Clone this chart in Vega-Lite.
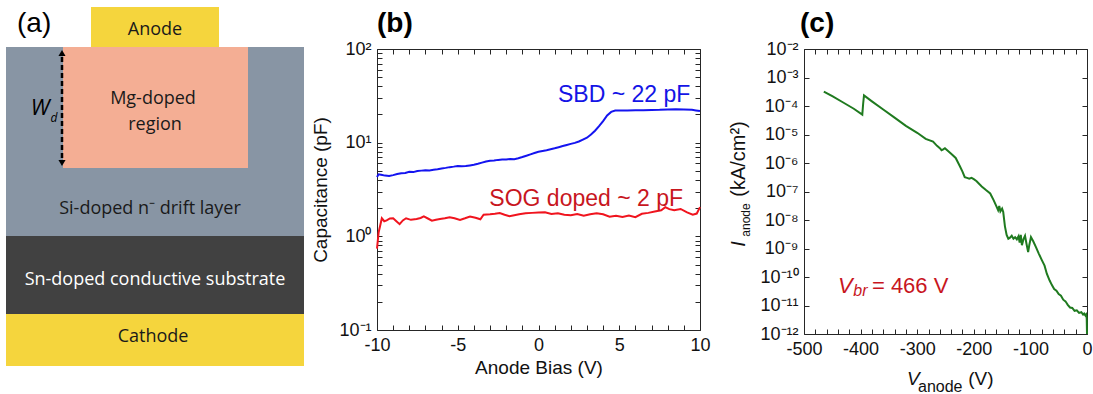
{
  "$schema": "https://vega.github.io/schema/vega-lite/v6.json",
  "usermeta": {"embedOptions": {"actions": false}},
  "background": "white",
  "padding": {"left": 6, "top": 7, "right": 0, "bottom": 0},
  "config": {
    "font": "Liberation Sans",
    "view": {"stroke": "#262626", "strokeWidth": 1},
    "axis": {"grid": false, "domain": false, "tickSize": -5, "tickColor": "#262626", "tickWidth": 1,
      "labelFont": "Liberation Sans", "labelFontSize": 18, "labelColor": "#111111", "labelPadding": 11,
      "labelOverlap": false, "labelFlush": false, "labelBound": false,
      "titleFont": "Liberation Sans", "titleFontSize": 19, "titleFontWeight": "normal", "titleColor": "#111111"},
    "title": {"font": "Liberation Sans", "fontSize": 28, "fontWeight": "bold", "anchor": "start", "frame": "group", "color": "#000000"}
  },
  "datasets": {
    "sbd": [
      {"v": -10, "c": 4.3}, {"v": -9.9, "c": 4.6}, {"v": -9.75, "c": 4.55}, {"v": -9.5, "c": 4.45}, {"v": -9.25, "c": 4.4}, {"v": -9, "c": 4.5},
      {"v": -8.75, "c": 4.62}, {"v": -8.5, "c": 4.72}, {"v": -8.25, "c": 4.75}, {"v": -8, "c": 4.88}, {"v": -7.75, "c": 4.85}, {"v": -7.5, "c": 4.98},
      {"v": -7.25, "c": 5.03}, {"v": -7, "c": 5.08}, {"v": -6.75, "c": 5.06}, {"v": -6.5, "c": 5.15}, {"v": -6.25, "c": 5.2}, {"v": -6, "c": 5.3},
      {"v": -5.75, "c": 5.38}, {"v": -5.5, "c": 5.48}, {"v": -5.25, "c": 5.55}, {"v": -5, "c": 5.65}, {"v": -4.75, "c": 5.6}, {"v": -4.5, "c": 5.62},
      {"v": -4.25, "c": 5.72}, {"v": -4, "c": 5.82}, {"v": -3.75, "c": 5.95}, {"v": -3.5, "c": 6.12}, {"v": -3.25, "c": 6.3}, {"v": -3, "c": 6.42},
      {"v": -2.75, "c": 6.46}, {"v": -2.5, "c": 6.55}, {"v": -2.25, "c": 6.6}, {"v": -2, "c": 6.63}, {"v": -1.75, "c": 6.7}, {"v": -1.5, "c": 6.66},
      {"v": -1.25, "c": 6.82}, {"v": -1, "c": 7.02}, {"v": -0.75, "c": 7.25}, {"v": -0.5, "c": 7.5}, {"v": -0.25, "c": 7.75}, {"v": 0, "c": 8.0},
      {"v": 0.25, "c": 8.15}, {"v": 0.5, "c": 8.3}, {"v": 0.75, "c": 8.5}, {"v": 1, "c": 8.7}, {"v": 1.25, "c": 8.95}, {"v": 1.5, "c": 9.2},
      {"v": 1.75, "c": 9.45}, {"v": 2, "c": 9.7}, {"v": 2.25, "c": 9.95}, {"v": 2.5, "c": 10.3}, {"v": 2.75, "c": 10.8}, {"v": 3, "c": 11.3},
      {"v": 3.25, "c": 12.2}, {"v": 3.5, "c": 13.4}, {"v": 3.75, "c": 15.0}, {"v": 4, "c": 17.0}, {"v": 4.25, "c": 19.5}, {"v": 4.5, "c": 21.3},
      {"v": 4.75, "c": 22.0}, {"v": 5, "c": 22.1}, {"v": 5.5, "c": 22.1}, {"v": 6, "c": 22.2}, {"v": 6.5, "c": 22.2}, {"v": 7, "c": 22.3},
      {"v": 7.5, "c": 22.4}, {"v": 8, "c": 22.6}, {"v": 8.5, "c": 22.7}, {"v": 9, "c": 22.6}, {"v": 9.5, "c": 22.4}, {"v": 9.75, "c": 22.1}, {"v": 10, "c": 21.8}
    ],
    "sog": [
      {"v": -10, "c": 0.74}, {"v": -9.9, "c": 1.1}, {"v": -9.7, "c": 1.56}, {"v": -9.55, "c": 1.45}, {"v": -9.4, "c": 1.48}, {"v": -9.2, "c": 1.55},
      {"v": -9.0, "c": 1.56}, {"v": -8.8, "c": 1.45}, {"v": -8.6, "c": 1.35}, {"v": -8.4, "c": 1.48}, {"v": -8.2, "c": 1.56}, {"v": -7.9, "c": 1.5},
      {"v": -7.55, "c": 1.53}, {"v": -7.3, "c": 1.57}, {"v": -7.1, "c": 1.63}, {"v": -6.85, "c": 1.55}, {"v": -6.6, "c": 1.47}, {"v": -6.35, "c": 1.5},
      {"v": -6.1, "c": 1.53}, {"v": -5.8, "c": 1.56}, {"v": -5.5, "c": 1.6}, {"v": -5.2, "c": 1.56}, {"v": -4.86, "c": 1.5}, {"v": -4.55, "c": 1.56},
      {"v": -4.24, "c": 1.63}, {"v": -3.9, "c": 1.58}, {"v": -3.6, "c": 1.52}, {"v": -3.4, "c": 1.7}, {"v": -3.0, "c": 1.72}, {"v": -2.7, "c": 1.74},
      {"v": -2.4, "c": 1.77}, {"v": -2.1, "c": 1.7}, {"v": -1.8, "c": 1.64}, {"v": -1.5, "c": 1.68}, {"v": -1.2, "c": 1.72}, {"v": -0.8, "c": 1.76},
      {"v": -0.4, "c": 1.78}, {"v": 0.0, "c": 1.8}, {"v": 0.4, "c": 1.81}, {"v": 0.8, "c": 1.73}, {"v": 1.2, "c": 1.76}, {"v": 1.6, "c": 1.7},
      {"v": 2.0, "c": 1.68}, {"v": 2.4, "c": 1.73}, {"v": 2.8, "c": 1.66}, {"v": 3.2, "c": 1.72}, {"v": 3.6, "c": 1.76}, {"v": 4.0, "c": 1.72},
      {"v": 4.4, "c": 1.62}, {"v": 4.8, "c": 1.66}, {"v": 5.2, "c": 1.61}, {"v": 5.6, "c": 1.67}, {"v": 6.0, "c": 1.6}, {"v": 6.4, "c": 1.74},
      {"v": 6.8, "c": 1.78}, {"v": 7.2, "c": 1.84}, {"v": 7.6, "c": 1.9}, {"v": 7.85, "c": 2.05}, {"v": 8.1, "c": 1.95}, {"v": 8.4, "c": 1.9},
      {"v": 8.8, "c": 1.96}, {"v": 9.2, "c": 1.8}, {"v": 9.55, "c": 1.7}, {"v": 9.8, "c": 1.75}, {"v": 10, "c": 2.05}
    ],
    "iv": [
      {"v": -465, "i": 3.2e-4}, {"v": -450, "i": 2.2e-4}, {"v": -430, "i": 1.3e-4}, {"v": -412, "i": 8.0e-5}, {"v": -397, "i": 5.0e-5},
      {"v": -395.5, "i": 1.2e-4}, {"v": -394, "i": 2.35e-4}, {"v": -380, "i": 1.45e-4}, {"v": -360, "i": 7.5e-5}, {"v": -340, "i": 3.9e-5},
      {"v": -320, "i": 2.0e-5}, {"v": -300, "i": 1.15e-5}, {"v": -285, "i": 7.0e-6}, {"v": -272, "i": 5.6e-6}, {"v": -265, "i": 4.0e-6},
      {"v": -260, "i": 3.3e-6}, {"v": -257, "i": 2.8e-6}, {"v": -254, "i": 3.0e-6}, {"v": -251, "i": 3.3e-6}, {"v": -247, "i": 2.8e-6},
      {"v": -240, "i": 2.1e-6}, {"v": -232, "i": 1.5e-6}, {"v": -225, "i": 8.0e-7}, {"v": -220, "i": 5.0e-7}, {"v": -216, "i": 3.2e-7},
      {"v": -212, "i": 3.0e-7}, {"v": -208, "i": 2.8e-7}, {"v": -204, "i": 3.0e-7}, {"v": -200, "i": 2.7e-7}, {"v": -195, "i": 2.3e-7},
      {"v": -186, "i": 1.5e-7}, {"v": -178, "i": 1.1e-7}, {"v": -171, "i": 8.5e-8}, {"v": -165, "i": 5.0e-8}, {"v": -160, "i": 3.0e-8},
      {"v": -157, "i": 2.2e-8}, {"v": -155, "i": 3.1e-8}, {"v": -153, "i": 2.0e-8}, {"v": -150, "i": 2.5e-8}, {"v": -148, "i": 1.9e-8},
      {"v": -145, "i": 6.0e-9}, {"v": -142, "i": 3.0e-9}, {"v": -139, "i": 2.2e-9}, {"v": -136, "i": 2.4e-9}, {"v": -133, "i": 2.8e-9},
      {"v": -130, "i": 2.2e-9}, {"v": -127, "i": 2.5e-9}, {"v": -124, "i": 2.1e-9}, {"v": -121, "i": 2.7e-9}, {"v": -119, "i": 1.6e-9},
      {"v": -117, "i": 3.0e-9}, {"v": -115, "i": 1.3e-9}, {"v": -112, "i": 2.2e-9}, {"v": -109.5, "i": 2.8e-9}, {"v": -107, "i": 1.5e-9},
      {"v": -104, "i": 7.5e-10}, {"v": -102, "i": 1.3e-9}, {"v": -99, "i": 2.5e-9}, {"v": -95, "i": 1.8e-9}, {"v": -90, "i": 1.1e-9},
      {"v": -85, "i": 6.5e-10}, {"v": -80, "i": 4.0e-10}, {"v": -75, "i": 2.5e-10}, {"v": -71, "i": 1.3e-10}, {"v": -66, "i": 7.5e-11},
      {"v": -62, "i": 5.2e-11}, {"v": -58, "i": 3.8e-11}, {"v": -54, "i": 3.3e-11}, {"v": -50, "i": 2.5e-11}, {"v": -46, "i": 2.2e-11},
      {"v": -42, "i": 1.6e-11}, {"v": -38, "i": 1.4e-11}, {"v": -34, "i": 1.05e-11}, {"v": -30, "i": 8.5e-12}, {"v": -26, "i": 8.2e-12},
      {"v": -22, "i": 6.5e-12}, {"v": -18, "i": 6.8e-12}, {"v": -14, "i": 5.5e-12}, {"v": -10, "i": 5.8e-12}, {"v": -7, "i": 4.8e-12},
      {"v": -5, "i": 5.2e-12}, {"v": -3, "i": 4.5e-12}, {"v": -1.5, "i": 4.9e-12}, {"v": -0.5, "i": 3.5e-12}, {"v": 0, "i": 1.0e-12}
    ]
  },
  "spacing": 7,
  "hconcat": [
    {
      "width": 298,
      "height": 317,
      "view": {"stroke": null},
      "layer": [
        {
          "data": {"values": [
            {"part": "drift", "x1": 6, "x2": 304, "y1": 47, "y2": 236},
            {"part": "mg", "x1": 63, "x2": 248, "y1": 47, "y2": 168},
            {"part": "substrate", "x1": 6, "x2": 304, "y1": 236, "y2": 314},
            {"part": "cathode", "x1": 6, "x2": 304, "y1": 314, "y2": 366},
            {"part": "anode", "x1": 91, "x2": 219, "y1": 7, "y2": 47}
          ]},
          "mark": {"type": "rect", "strokeWidth": 0},
          "encoding": {
            "x": {"field": "x1", "type": "quantitative", "scale": {"domain": [6, 304], "nice": false, "zero": false}, "axis": null},
            "x2": {"field": "x2"},
            "y": {"field": "y1", "type": "quantitative", "scale": {"domain": [49, 366], "reverse": true, "nice": false, "zero": false}, "axis": null},
            "y2": {"field": "y2"},
            "color": {"field": "part", "type": "nominal", "legend": null,
              "scale": {"domain": ["drift", "mg", "substrate", "cathode", "anode"], "range": ["#8895A4", "#F4AE94", "#414141", "#F5D53D", "#F5D53D"]}}
          }
        },
        {
          "data": {"values": [{"x": 62, "y1": 57, "y2": 160}]},
          "mark": {"type": "rule", "strokeDash": [5, 3], "strokeWidth": 2.5, "color": "#000000"},
          "encoding": {
            "x": {"field": "x", "type": "quantitative"},
            "y": {"field": "y1", "type": "quantitative"},
            "y2": {"field": "y2"}
          }
        },
        {
          "data": {"values": [{"x": 62, "y": 53, "dir": "up"}, {"x": 62, "y": 163, "dir": "down"}]},
          "mark": {"type": "point", "filled": true, "size": 50, "color": "#000000", "opacity": 1},
          "encoding": {
            "x": {"field": "x", "type": "quantitative"},
            "y": {"field": "y", "type": "quantitative"},
            "shape": {"field": "dir", "type": "nominal", "legend": null, "scale": {"domain": ["up", "down"], "range": ["triangle-up", "triangle-down"]}}
          }
        },
        {
          "data": {"values": [
            {"t": "Anode", "x": 155, "y": 29.5},
            {"t": "Mg-doped", "x": 153, "y": 99},
            {"t": "region", "x": 155, "y": 125},
            {"t": "Si-doped n⁻ drift layer", "x": 150, "y": 209},
            {"t": "Cathode", "x": 153, "y": 337}
          ]},
          "mark": {"type": "text", "font": "Open Sans", "fontSize": 18, "color": "#1a1a1a", "align": "center", "baseline": "middle"},
          "encoding": {
            "x": {"field": "x", "type": "quantitative"},
            "y": {"field": "y", "type": "quantitative"},
            "text": {"field": "t"}
          }
        },
        {
          "data": {"values": [{"t": "Sn-doped conductive substrate", "x": 155, "y": 280}]},
          "mark": {"type": "text", "font": "Open Sans", "fontSize": 18, "color": "#ffffff", "align": "center", "baseline": "middle"},
          "encoding": {
            "x": {"field": "x", "type": "quantitative"},
            "y": {"field": "y", "type": "quantitative"},
            "text": {"field": "t"}
          }
        },
        {
          "data": {"values": [{"t": "W", "x": 40, "y": 108}]},
          "mark": {"type": "text", "font": "Open Sans", "fontSize": 22, "fontStyle": "italic", "color": "#000000", "align": "center", "baseline": "middle"},
          "encoding": {
            "x": {"field": "x", "type": "quantitative"},
            "y": {"field": "y", "type": "quantitative"},
            "text": {"field": "t"}
          }
        },
        {
          "data": {"values": [{"t": "d", "x": 54, "y": 118}]},
          "mark": {"type": "text", "font": "Open Sans", "fontSize": 12, "fontStyle": "italic", "color": "#000000", "align": "center", "baseline": "middle"},
          "encoding": {
            "x": {"field": "x", "type": "quantitative"},
            "y": {"field": "y", "type": "quantitative"},
            "text": {"field": "t"}
          }
        },
        {
          "data": {"values": [{"t": "(a)", "x": 17, "y": 24}]},
          "mark": {"type": "text", "font": "Liberation Sans", "fontSize": 28, "color": "#000000", "align": "left", "baseline": "middle"},
          "encoding": {
            "x": {"field": "x", "type": "quantitative"},
            "y": {"field": "y", "type": "quantitative"},
            "text": {"field": "t"}
          }
        }
      ]
    },
    {
      "spacing": 17,
      "hconcat": [
        {
          "width": 323,
          "height": 281,
          "title": {"text": "(b)", "offset": 2},
          "resolve": {"axis": {"x": "independent", "y": "independent"}},
          "layer": [
            {
              "data": {"name": "sbd"},
              "mark": {"type": "line", "color": "#1414F0", "strokeWidth": 2},
              "encoding": {
                "x": {"field": "v", "type": "quantitative", "scale": {"domain": [-10, 10], "nice": false, "zero": false},
                  "axis": {"orient": "bottom", "values": [-10, -9, -8, -7, -6, -5, -4, -3, -2, -1, 0, 1, 2, 3, 4, 5, 6, 7, 8, 9, 10],
                    "labelExpr": "datum.value % 5 === 0 ? '' + datum.value : ''", "title": "Anode Bias (V)", "titlePadding": 4}},
                "y": {"field": "c", "type": "quantitative", "scale": {"type": "log", "domain": [0.1, 100], "nice": false},
                  "axis": {"orient": "left", "values": [0.1, 0.2, 0.3, 0.4, 0.5, 0.6, 0.7, 0.8, 0.9, 1, 2, 3, 4, 5, 6, 7, 8, 9, 10, 20, 30, 40, 50, 60, 70, 80, 90, 100],
                    "labelExpr": "datum.value === 0.1 ? '10⁻¹' : datum.value === 1 ? '10⁰' : datum.value === 10 ? '10¹' : datum.value === 100 ? '10²' : ''",
                    "title": "Capacitance (pF)", "titlePadding": 8}}
              }
            },
            {
              "data": {"name": "sog"},
              "mark": {"type": "line", "color": "#F0141E", "strokeWidth": 2},
              "encoding": {
                "x": {"field": "v", "type": "quantitative", "scale": {"domain": [-10, 10], "nice": false, "zero": false},
                  "axis": {"orient": "top", "values": [-10, -9, -8, -7, -6, -5, -4, -3, -2, -1, 0, 1, 2, 3, 4, 5, 6, 7, 8, 9, 10], "labels": false, "title": null}},
                "y": {"field": "c", "type": "quantitative", "scale": {"type": "log", "domain": [0.1, 100], "nice": false},
                  "axis": {"orient": "right", "values": [0.1, 0.2, 0.3, 0.4, 0.5, 0.6, 0.7, 0.8, 0.9, 1, 2, 3, 4, 5, 6, 7, 8, 9, 10, 20, 30, 40, 50, 60, 70, 80, 90, 100], "labels": false, "title": null}}
              }
            },
            {
              "data": {"values": [{"t": "SBD ~ 22 pF", "v": 9.4, "c": 27.1}]},
              "mark": {"type": "text", "fontSize": 23, "color": "#1414E6", "align": "right", "baseline": "alphabetic"},
              "encoding": {
                "x": {"field": "v", "type": "quantitative", "axis": null},
                "y": {"field": "c", "type": "quantitative", "axis": null},
                "text": {"field": "t"}
              }
            },
            {
              "data": {"values": [{"t": "SOG doped ~ 2 pF", "v": 8.95, "c": 2.1}]},
              "mark": {"type": "text", "fontSize": 23, "color": "#C8161E", "align": "right", "baseline": "alphabetic"},
              "encoding": {
                "x": {"field": "v", "type": "quantitative", "axis": null},
                "y": {"field": "c", "type": "quantitative", "axis": null},
                "text": {"field": "t"}
              }
            }
          ]
        },
        {
          "width": 283,
          "height": 285,
          "title": {"text": "(c)", "offset": 2, "dx": -4},
          "resolve": {"axis": {"x": "independent", "y": "independent"}},
          "layer": [
            {
              "data": {"name": "iv"},
              "mark": {"type": "line", "color": "#1F7A1F", "strokeWidth": 2},
              "encoding": {
                "x": {"field": "v", "type": "quantitative", "scale": {"domain": [-500, 0], "nice": false, "zero": false},
                  "axis": {"orient": "bottom", "values": [-500, -480, -460, -440, -420, -400, -380, -360, -340, -320, -300, -280, -260, -240, -220, -200, -180, -160, -140, -120, -100, -80, -60, -40, -20, 0],
                    "labelExpr": "datum.value % 100 === 0 ? '' + datum.value : ''", "title": null}},
                "y": {"field": "i", "type": "quantitative", "scale": {"type": "log", "domain": [1e-12, 1e-2], "nice": false},
                  "axis": {"orient": "left", "values": [1e-12, 1e-11, 1e-10, 1e-9, 1e-8, 1e-7, 1e-6, 1e-5, 1e-4, 1e-3, 1e-2],
                    "labelExpr": "['10⁻¹²','10⁻¹¹','10⁻¹⁰','10⁻⁹','10⁻⁸','10⁻⁷','10⁻⁶','10⁻⁵','10⁻⁴','10⁻³','10⁻²'][round(log(datum.value)/LN10)+12]",
                    "title": null}}
              }
            },
            {
              "data": {"name": "iv"},
              "mark": {"type": "line", "color": "#1F7A1F", "strokeWidth": 2, "opacity": 0},
              "encoding": {
                "x": {"field": "v", "type": "quantitative", "scale": {"domain": [-500, 0], "nice": false, "zero": false},
                  "axis": {"orient": "top", "values": [-500, -480, -460, -440, -420, -400, -380, -360, -340, -320, -300, -280, -260, -240, -220, -200, -180, -160, -140, -120, -100, -80, -60, -40, -20, 0], "labels": false, "title": null}},
                "y": {"field": "i", "type": "quantitative", "scale": {"type": "log", "domain": [1e-12, 1e-2], "nice": false},
                  "axis": {"orient": "right", "values": [1e-12, 1e-11, 1e-10, 1e-9, 1e-8, 1e-7, 1e-6, 1e-5, 1e-4, 1e-3, 1e-2], "labels": false, "title": null}}
              }
            },
            {
              "data": {"values": [{"t": "V", "v": -440, "i": 2.75e-11}]},
              "mark": {"type": "text", "fontSize": 22, "fontStyle": "italic", "color": "#C8161E", "align": "left", "baseline": "alphabetic"},
              "encoding": {"x": {"field": "v", "type": "quantitative", "axis": null}, "y": {"field": "i", "type": "quantitative", "axis": null}, "text": {"field": "t"}}
            },
            {
              "data": {"values": [{"t": "br", "v": -413, "i": 2.15e-11}]},
              "mark": {"type": "text", "fontSize": 16, "fontStyle": "italic", "color": "#C8161E", "align": "left", "baseline": "alphabetic"},
              "encoding": {"x": {"field": "v", "type": "quantitative", "axis": null}, "y": {"field": "i", "type": "quantitative", "axis": null}, "text": {"field": "t"}}
            },
            {
              "data": {"values": [{"t": "= 466 V", "v": -380, "i": 2.75e-11}]},
              "mark": {"type": "text", "fontSize": 22, "color": "#C8161E", "align": "left", "baseline": "alphabetic"},
              "encoding": {"x": {"field": "v", "type": "quantitative", "axis": null}, "y": {"field": "i", "type": "quantitative", "axis": null}, "text": {"field": "t"}}
            },
            {
              "data": {"values": [{"t": "V", "v": -318, "i": 1e-12}]},
              "mark": {"type": "text", "fontSize": 19, "fontStyle": "italic", "color": "#111111", "align": "left", "baseline": "alphabetic", "dy": 51},
              "encoding": {"x": {"field": "v", "type": "quantitative", "axis": null}, "y": {"field": "i", "type": "quantitative", "axis": null}, "text": {"field": "t"}}
            },
            {
              "data": {"values": [{"t": "anode", "v": -298.6, "i": 1e-12}]},
              "mark": {"type": "text", "fontSize": 16, "color": "#111111", "align": "left", "baseline": "alphabetic", "dy": 58},
              "encoding": {"x": {"field": "v", "type": "quantitative", "axis": null}, "y": {"field": "i", "type": "quantitative", "axis": null}, "text": {"field": "t"}}
            },
            {
              "data": {"values": [{"t": "(V)", "v": -210, "i": 1e-12}]},
              "mark": {"type": "text", "fontSize": 19, "color": "#111111", "align": "left", "baseline": "alphabetic", "dy": 51},
              "encoding": {"x": {"field": "v", "type": "quantitative", "axis": null}, "y": {"field": "i", "type": "quantitative", "axis": null}, "text": {"field": "t"}}
            },
            {
              "data": {"values": [{"t": "I", "v": -500, "i": 1.45e-9}]},
              "mark": {"type": "text", "fontSize": 20, "fontStyle": "italic", "color": "#111111", "align": "center", "baseline": "alphabetic", "angle": 270, "dy": -59},
              "encoding": {"x": {"field": "v", "type": "quantitative", "axis": null}, "y": {"field": "i", "type": "quantitative", "axis": null}, "text": {"field": "t"}}
            },
            {
              "data": {"values": [{"t": "anode", "v": -500, "i": 1e-8}]},
              "mark": {"type": "text", "fontSize": 12, "color": "#111111", "align": "center", "baseline": "alphabetic", "angle": 270, "dy": -54},
              "encoding": {"x": {"field": "v", "type": "quantitative", "axis": null}, "y": {"field": "i", "type": "quantitative", "axis": null}, "text": {"field": "t"}}
            },
            {
              "data": {"values": [{"t": "(kA/cm²)", "v": -500, "i": 1.38e-6}]},
              "mark": {"type": "text", "fontSize": 20, "color": "#111111", "align": "center", "baseline": "alphabetic", "angle": 270, "dy": -59},
              "encoding": {"x": {"field": "v", "type": "quantitative", "axis": null}, "y": {"field": "i", "type": "quantitative", "axis": null}, "text": {"field": "t"}}
            }
          ]
        }
      ]
    }
  ]
}
